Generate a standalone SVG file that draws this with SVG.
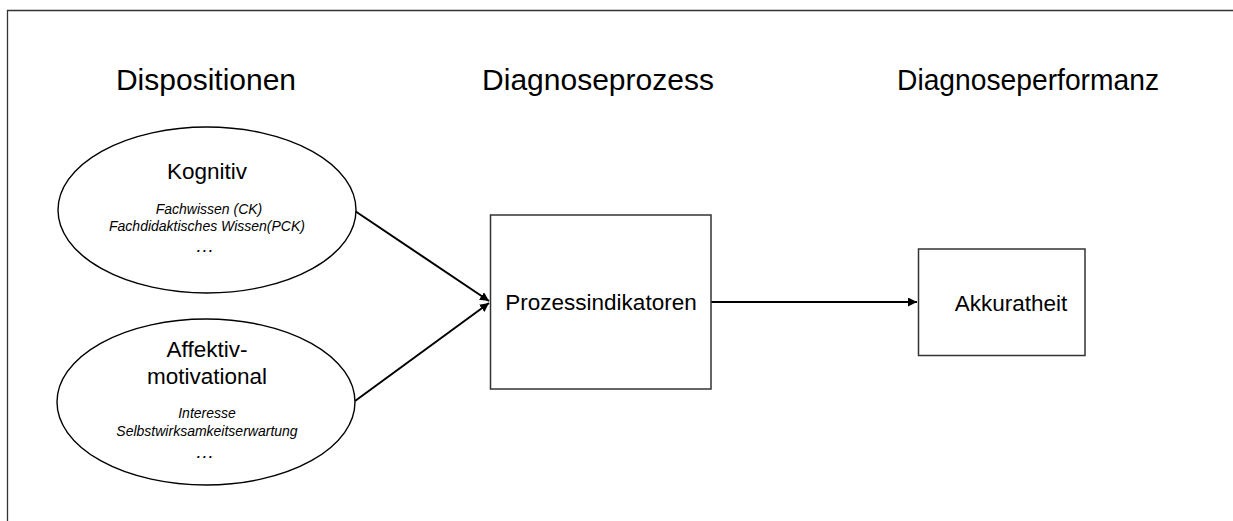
<svg xmlns="http://www.w3.org/2000/svg" width="1233" height="521" viewBox="0 0 1233 521">
<style>
.h{font-family:"Liberation Sans",Arial,sans-serif;font-size:30px;fill:#000;text-anchor:middle}
.t{font-family:"Liberation Sans",Arial,sans-serif;font-size:22.5px;fill:#000;text-anchor:middle}
.i{font-family:"Liberation Sans",Arial,sans-serif;font-size:14px;font-style:italic;fill:#000;text-anchor:middle}
.e{font-family:"Liberation Sans",Arial,sans-serif;font-size:19px;font-style:italic;fill:#000;text-anchor:middle}
.sh{fill:#fff;stroke:#000;stroke-width:1.4}
.bx{fill:#fff;stroke:#333;stroke-width:1.5}
.c{stroke:#000;stroke-width:2;fill:none;marker-end:url(#ah)}
</style>
<defs>
<marker id="ah" markerWidth="11" markerHeight="11" refX="9" refY="4.5" orient="auto" markerUnits="userSpaceOnUse">
<path d="M0,0 L9,4.5 L0,9 Z" fill="#000"/>
</marker>
</defs>
<rect width="1233" height="521" fill="#fff"/>
<path d="M7.5,521 V10.5 H1233" fill="none" stroke="#333" stroke-width="1.3"/>
<g id="headings">
<text class="h" x="206" y="90">Dispositionen</text>
<text class="h" x="598" y="90">Diagnoseprozess</text>
<text class="h" x="1028" y="90" textLength="262" lengthAdjust="spacingAndGlyphs">Diagnoseperformanz</text>
</g>
<g id="connectors">
<line class="c" x1="355" y1="211" x2="489" y2="301"/>
<line class="c" x1="355" y1="401" x2="489" y2="303"/>
<line class="c" x1="711" y1="302" x2="917" y2="302"/>
</g>
<g id="kognitiv">
<ellipse class="sh" cx="207" cy="210" rx="149" ry="83"/>
<text class="t" x="207" y="179">Kognitiv</text>
<text class="i" x="209" y="214">Fachwissen (CK)</text>
<text class="i" x="207" y="231">Fachdidaktisches Wissen(PCK)</text>
<text class="e" x="205" y="252">…</text>
</g>
<g id="affektiv">
<ellipse class="sh" cx="206" cy="402" rx="149" ry="83"/>
<text class="t" x="207" y="357">Affektiv-</text>
<text class="t" x="207" y="384">motivational</text>
<text class="i" x="207" y="418">Interesse</text>
<text class="i" x="207" y="436">Selbstwirksamkeitserwartung</text>
<text class="e" x="205" y="458">…</text>
</g>
<g id="prozess">
<rect class="bx" x="490.5" y="215" width="220.5" height="174"/>
<text class="t" x="601" y="310">Prozessindikatoren</text>
</g>
<g id="akkuratheit">
<rect class="bx" x="918.5" y="249" width="166.5" height="106.5"/>
<text class="t" x="1011" y="311">Akkuratheit</text>
</g>
</svg>
